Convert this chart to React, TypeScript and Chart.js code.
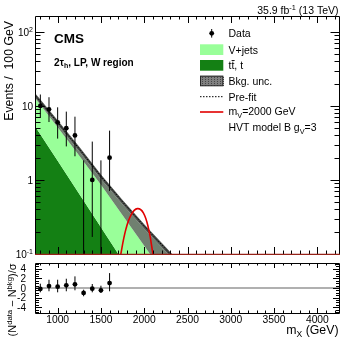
import React, { useEffect, useRef } from "react";
import { Chart, registerables } from "chart.js";
Chart.register(...registerables);

// ---------------- data ----------------
const binCenters = [800, 900, 1000, 1100, 1200, 1300, 1400, 1500, 1600];
const observed = [10, 9, 6, 5, 4, 0, 1, 0, 2];
const observedLow = [6.89, 6.06, 3.62, 2.84, 2.09, 0, 0.17, 0, 0.71];
const observedHigh = [14.27, 13.11, 9.58, 8.38, 7.16, 1.84, 3.3, 1.84, 4.64];

const curveMass = [750, 1000, 1250, 1500, 1750, 2000, 2250, 2500];
const ttbarYield = [5.09, 1.82, 0.647, 0.23, 0.0817, 0.0291, 0.0104, 0.0037];
const vjetsStack = [12.3, 5.15, 2.13, 0.864, 0.333, 0.129, 0.0497, 0.0192];
const uncInner = [12.5, 5.55, 2.43, 1.03, 0.468, 0.22, 0.107, 0.052];
const uncUpper = [14.4, 6.39, 2.8, 1.19, 0.538, 0.253, 0.123, 0.06];
const prefitTotal = [13.5, 6.0, 2.63, 1.12, 0.506, 0.238, 0.116, 0.056];

const signalMass = [1690, 1730, 1790, 1850, 1920, 1990, 2050, 2100, 2140];
const signalYield = [0.05, 0.1, 0.22, 0.34, 0.41, 0.36, 0.22, 0.1, 0.045];

const pullValue = [-0.2, 0.41, 0.27, 0.56, 0.77, -1.03, -0.14, -0.48, 1.03];
const pullLow = [-0.9, -0.68, -0.9, -0.68, -0.48, -1.72, -0.9, -1.03, -0.68];
const pullHigh = [0.9, 1.72, 1.72, 1.93, 2.42, -0.35, 0.83, 0.48, 3.1];

const xTickValues = [1000, 1500, 2000, 2500, 3000, 3500, 4000];
const xTickLabels = ["1000", "1500", "2000", "2500", "3000", "3500", "4000"];
const yMainTickValues = [0.1, 1, 10, 100];
const yMainTickLabels: [string, string][] = [["10", "-1"], ["1", ""], ["10", ""], ["10", "2"]];
const yPullTickValues = [-4, -2, 0, 2, 4];
const yPullTickLabels = ["-4", "-2", "0", "2", "4"];

// ---------------- helpers ----------------
const FAM = "'Liberation Sans', Arial, Helvetica, sans-serif";
type Part = { t: string; k?: "sup" | "sub" };

function drawRich(
  ctx: CanvasRenderingContext2D,
  parts: Part[],
  x: number,
  y: number,
  size: number,
  align: "left" | "right" | "center" = "left",
  bold = false,
  color = "#000"
) {
  const font = (s: number) => `${bold ? "bold " : ""}${s}px ${FAM}`;
  ctx.textAlign = "left";
  ctx.textBaseline = "alphabetic";
  let w = 0;
  for (const p of parts) {
    ctx.font = font(p.k ? size * 0.7 : size);
    w += ctx.measureText(p.t).width;
  }
  let cx = align === "right" ? x - w : align === "center" ? x - w / 2 : x;
  ctx.fillStyle = color;
  for (const p of parts) {
    const s = p.k ? size * 0.7 : size;
    ctx.font = font(s);
    const dy = p.k === "sup" ? -size * 0.4 : p.k === "sub" ? size * 0.25 : 0;
    ctx.fillText(p.t, cx, y + dy);
    cx += ctx.measureText(p.t).width;
  }
  return w;
}

const xy = (xs: number[], ys: (number | null)[]) => xs.map((x, i) => ({ x, y: ys[i] }));

// ---------------- main panel plugin ----------------
const mainDeco = {
  id: "mainDeco",
  afterDatasetsDraw(chart: any) {
    const { ctx, chartArea: a } = chart;
    const xs = chart.scales.x;
    const ys = chart.scales.y;
    ctx.save();
    ctx.beginPath();
    ctx.rect(a.left, a.top, a.right - a.left, a.bottom - a.top);
    ctx.clip();
    ctx.strokeStyle = "#000";
    ctx.lineWidth = 1;
    binCenters.forEach((m, i) => {
      const px = xs.getPixelForValue(m);
      const top = ys.getPixelForValue(observedHigh[i]);
      const bot = observedLow[i] > 0 ? ys.getPixelForValue(observedLow[i]) : a.bottom + 2;
      ctx.beginPath();
      ctx.moveTo(px, top);
      ctx.lineTo(px, bot);
      ctx.stroke();
    });
    ctx.restore();
  },
  afterDraw(chart: any) {
    const { ctx, chartArea: a } = chart;
    const xs = chart.scales.x;
    const ys = chart.scales.y;
    const L = a.left, R = a.right, T = a.top, B = a.bottom;
    ctx.save();
    ctx.strokeStyle = "#000";
    ctx.lineWidth = 1;
    ctx.beginPath();
    for (let m = 800; m <= 4200; m += 100) {
      const px = Math.round(xs.getPixelForValue(m)) + 0.5;
      const len = m % 500 === 0 ? 7 : 3.5;
      ctx.moveTo(px, B);
      ctx.lineTo(px, B - len);
      ctx.moveTo(px, T);
      ctx.lineTo(px, T + len);
    }
    for (let n = -1; n <= 2; n++) {
      for (let k = 1; k <= 9; k++) {
        const v = k * Math.pow(10, n);
        if (v < 0.1 || v > ys.max) continue;
        const py = Math.round(ys.getPixelForValue(v)) + 0.5;
        const len = k === 1 ? 8.5 : 4.5;
        ctx.moveTo(L, py);
        ctx.lineTo(L + len, py);
        ctx.moveTo(R, py);
        ctx.lineTo(R - len, py);
      }
    }
    ctx.stroke();
    // frame
    ctx.beginPath();
    ctx.moveTo(35.5, T + 0.5);
    ctx.lineTo(339.5, T + 0.5);
    ctx.lineTo(339.5, B + 0.5);
    ctx.moveTo(35.5, T + 0.5);
    ctx.lineTo(35.5, B + 0.5);
    ctx.stroke();
    ctx.strokeStyle = "rgb(150,35,25)";
    ctx.lineWidth = 1.3;
    ctx.beginPath();
    ctx.moveTo(35, B + 0.3);
    ctx.lineTo(340, B + 0.3);
    ctx.stroke();

    // y tick labels
    yMainTickValues.forEach((v, i) => {
      const py = ys.getPixelForValue(v);
      const [base, exp] = yMainTickLabels[i];
      const parts: Part[] = exp ? [{ t: base }, { t: exp, k: "sup" }] : [{ t: base }];
      drawRich(ctx, parts, 33, py + 3.6, 10, "right");
    });

    // y title
    ctx.save();
    ctx.translate(13.3, 21);
    ctx.rotate(-Math.PI / 2);
    drawRich(ctx, [{ t: "Events /  100 GeV" }], 0, 0, 12.3, "right");
    ctx.restore();

    // header texts
    drawRich(ctx, [{ t: "35.9 fb" }, { t: "-1", k: "sup" }, { t: " (13 TeV)" }], 338.5, 14, 10.5, "right");
    drawRich(ctx, [{ t: "CMS" }], 54, 42.5, 13.5, "left", true);
    drawRich(ctx, [{ t: "2τ" }, { t: "h", k: "sub" }, { t: ", LP, W region" }], 54, 65.5, 10, "left", true);

    // legend
    const tx = 228.5;
    const fs = 10.5;
    const bx0 = 200, bx1 = 223.3;
    // Data
    ctx.fillStyle = "#000";
    ctx.beginPath();
    ctx.arc(211.7, 33.3, 2.4, 0, Math.PI * 2);
    ctx.fill();
    ctx.strokeStyle = "#000";
    ctx.lineWidth = 1;
    ctx.beginPath();
    ctx.moveTo(211.7, 29);
    ctx.lineTo(211.7, 37.6);
    ctx.stroke();
    drawRich(ctx, [{ t: "Data" }], tx, 33.3 + 3.8, fs);
    // V+jets
    ctx.fillStyle = "rgb(153,255,153)";
    ctx.fillRect(bx0, 44.3, bx1 - bx0, 10.7);
    drawRich(ctx, [{ t: "V+jets" }], tx, 49.7 + 3.8, fs);
    // ttbar
    ctx.fillStyle = "rgb(20,128,20)";
    ctx.fillRect(bx0, 60, bx1 - bx0, 10.7);
    ctx.font = `${fs}px ${FAM}`;
    const wt = ctx.measureText("t").width;
    drawRich(ctx, [{ t: "tt, t" }], tx, 65.3 + 3.8, fs);
    ctx.strokeStyle = "#000";
    ctx.lineWidth = 0.9;
    ctx.beginPath();
    ctx.moveTo(tx + wt + 0.2, 65.3 + 3.8 - 8.6);
    ctx.lineTo(tx + 2 * wt + 0.3, 65.3 + 3.8 - 8.6);
    ctx.stroke();
    // Bkg unc
    ctx.fillStyle = "rgb(128,128,128)";
    ctx.fillRect(bx0, 75.7, bx1 - bx0, 10.3);
    ctx.fillStyle = "rgb(70,70,70)";
    for (let yy = 77; yy < 86; yy += 2) {
      for (let xx = bx0 + 1 + ((yy % 4) ? 1 : 0); xx < bx1; xx += 3) ctx.fillRect(xx, yy, 1, 1);
    }
    ctx.strokeStyle = "rgb(40,40,40)";
    ctx.lineWidth = 1;
    ctx.strokeRect(bx0 + 0.5, 76.2, bx1 - bx0 - 1, 9.6);
    drawRich(ctx, [{ t: "Bkg. unc." }], tx, 81 + 3.8, fs);
    // Pre-fit
    ctx.strokeStyle = "#000";
    ctx.lineWidth = 1;
    ctx.setLineDash([1.5, 1.5]);
    ctx.beginPath();
    ctx.moveTo(bx0, 96.7);
    ctx.lineTo(bx1, 96.7);
    ctx.stroke();
    ctx.setLineDash([]);
    drawRich(ctx, [{ t: "Pre-fit" }], tx, 96.7 + 3.8, fs);
    // signal
    ctx.strokeStyle = "rgb(225,0,0)";
    ctx.lineWidth = 1.6;
    ctx.beginPath();
    ctx.moveTo(bx0, 112);
    ctx.lineTo(bx1, 112);
    ctx.stroke();
    drawRich(ctx, [{ t: "m" }, { t: "V", k: "sub" }, { t: "=2000 GeV" }], tx, 111.5 + 3.8, fs);
    drawRich(ctx, [{ t: "HVT model B g" }, { t: "V", k: "sub" }, { t: "=3" }], tx, 127.3 + 3.8, fs);
    ctx.restore();
  },
};

// ---------------- pull panel plugin ----------------
const pullDeco = {
  id: "pullDeco",
  beforeDatasetsDraw(chart: any) {
    const { ctx, chartArea: a } = chart;
    const ys = chart.scales.y;
    const y0 = ys.getPixelForValue(0);
    ctx.save();
    ctx.strokeStyle = "rgb(150,150,150)";
    ctx.lineWidth = 1.5;
    ctx.beginPath();
    ctx.moveTo(a.left, y0);
    ctx.lineTo(a.right, y0);
    ctx.stroke();
    ctx.restore();
  },
  afterDatasetsDraw(chart: any) {
    const { ctx } = chart;
    const xs = chart.scales.x;
    const ys = chart.scales.y;
    ctx.save();
    ctx.strokeStyle = "#000";
    ctx.lineWidth = 1;
    binCenters.forEach((m, i) => {
      const px = xs.getPixelForValue(m);
      ctx.beginPath();
      ctx.moveTo(px, ys.getPixelForValue(pullHigh[i]));
      ctx.lineTo(px, ys.getPixelForValue(pullLow[i]));
      ctx.stroke();
    });
    ctx.restore();
  },
  afterDraw(chart: any) {
    const { ctx, chartArea: a } = chart;
    const xs = chart.scales.x;
    const ys = chart.scales.y;
    const L = a.left, R = a.right, T = a.top, B = a.bottom;
    ctx.save();
    ctx.strokeStyle = "#000";
    ctx.lineWidth = 1;
    ctx.beginPath();
    for (let m = 800; m <= 4200; m += 100) {
      const px = Math.round(xs.getPixelForValue(m)) + 0.5;
      const len = m % 500 === 0 ? 5 : 2.5;
      ctx.moveTo(px, B);
      ctx.lineTo(px, B - len);
      ctx.moveTo(px, T);
      ctx.lineTo(px, T + len);
    }
    for (let v = -5; v <= 5.001; v += 0.5) {
      const py = Math.round(ys.getPixelForValue(v)) + 0.5;
      const major = Math.abs(v % 2) < 1e-6;
      const len = major ? 6 : 3;
      ctx.moveTo(L, py);
      ctx.lineTo(L + len, py);
      ctx.moveTo(R, py);
      ctx.lineTo(R - len, py);
    }
    ctx.stroke();
    ctx.beginPath();
    ctx.rect(35.5, T + 0.5, 304, B - T);
    ctx.stroke();

    yPullTickValues.forEach((v, i) => {
      drawRich(ctx, [{ t: yPullTickLabels[i] }], 26, ys.getPixelForValue(v) + 3.6, 10, "right");
    });
    xTickValues.forEach((v, i) => {
      drawRich(ctx, [{ t: xTickLabels[i] }], xs.getPixelForValue(v), 65, 10.3, "center");
    });
    drawRich(ctx, [{ t: "m" }, { t: "X", k: "sub" }, { t: " (GeV)" }], 338.5, 75.5, 12.3, "right");

    ctx.save();
    ctx.translate(16, 42);
    ctx.rotate(-Math.PI / 2);
    drawRich(
      ctx,
      [{ t: "(N" }, { t: "data", k: "sup" }, { t: " − N" }, { t: "bkg", k: "sup" }, { t: ")/σ" }],
      0,
      0,
      11,
      "center"
    );
    ctx.restore();
    ctx.restore();
  },
};

function mainConfig(): any {
  return {
    type: "line",
    data: {
      datasets: [
        {
          label: "Data",
          data: xy(binCenters, observed.map((v) => (v > 0 ? v : null))),
          showLine: false,
          pointRadius: 2.4,
          pointBackgroundColor: "#000",
          pointBorderWidth: 0,
          fill: false,
        },
        {
          label: "Signal",
          data: xy(signalMass, signalYield),
          borderColor: "rgb(225,0,0)",
          borderWidth: 1.6,
          pointRadius: 0,
          tension: 0.4,
          fill: false,
        },
        {
          label: "Pre-fit",
          data: xy(curveMass, prefitTotal),
          borderColor: "#000",
          borderWidth: 1,
          borderDash: [1.5, 1.5],
          pointRadius: 0,
          fill: false,
        },
        {
          label: "Bkg. unc. (outer)",
          data: xy(curveMass, uncUpper),
          borderColor: "rgba(0,0,0,0)",
          borderWidth: 0,
          pointRadius: 0,
          fill: 4,
          backgroundColor: "rgb(78,82,78)",
        },
        {
          label: "Bkg. unc. (inner)",
          data: xy(curveMass, uncInner),
          borderColor: "rgba(0,0,0,0)",
          borderWidth: 0,
          pointRadius: 0,
          fill: 5,
          backgroundColor: "rgb(112,128,112)",
        },
        {
          label: "V+jets",
          data: xy(curveMass, vjetsStack),
          borderColor: "rgba(0,0,0,0)",
          borderWidth: 0,
          pointRadius: 0,
          fill: 6,
          backgroundColor: "rgb(153,255,153)",
        },
        {
          label: "ttbar",
          data: xy(curveMass, ttbarYield),
          borderColor: "rgba(0,0,0,0)",
          borderWidth: 0,
          pointRadius: 0,
          fill: "start",
          backgroundColor: "rgb(20,128,20)",
        },
      ],
    },
    options: {
      animation: false,
      responsive: false,
      devicePixelRatio: 1,
      layout: { padding: { left: 36, right: 18, top: 16, bottom: 4 } },
      elements: { line: { capBezierPoints: false, tension: 0 } },
      plugins: { legend: { display: false }, tooltip: { enabled: false }, title: { display: false } },
      scales: {
        x: { type: "linear", min: 750, max: 4250, display: false },
        y: { type: "logarithmic", min: 0.1, max: 164, display: false },
      },
    },
    plugins: [mainDeco],
  };
}

function pullConfig(): any {
  return {
    type: "line",
    data: {
      datasets: [
        {
          label: "Pull",
          data: xy(binCenters, pullValue),
          showLine: false,
          pointRadius: 2.4,
          pointBackgroundColor: "#000",
          pointBorderWidth: 0,
          fill: false,
        },
      ],
    },
    options: {
      animation: false,
      responsive: false,
      devicePixelRatio: 1,
      layout: { padding: { left: 36, right: 18, top: 5, bottom: 34 } },
      plugins: { legend: { display: false }, tooltip: { enabled: false }, title: { display: false } },
      scales: {
        x: { type: "linear", min: 750, max: 4250, display: false },
        y: { type: "linear", min: -5.2, max: 5.2, display: false },
      },
    },
    plugins: [pullDeco],
  };
}

export default function App() {
  const mainRef = useRef<HTMLCanvasElement>(null);
  const pullRef = useRef<HTMLCanvasElement>(null);
  useEffect(() => {
    document.body.style.margin = "0";
    const c1 = new Chart(mainRef.current as HTMLCanvasElement, mainConfig());
    const c2 = new Chart(pullRef.current as HTMLCanvasElement, pullConfig());
    return () => {
      c1.destroy();
      c2.destroy();
    };
  }, []);
  return (
    <div style={{ position: "fixed", left: 0, top: 0, width: 357, height: 347, background: "#fff" }}>
      <canvas
        ref={mainRef}
        width={357}
        height={258}
        style={{ position: "absolute", left: 0, top: 0, width: 357, height: 258 }}
      />
      <canvas
        ref={pullRef}
        width={357}
        height={89}
        style={{ position: "absolute", left: 0, top: 258, width: 357, height: 89 }}
      />
    </div>
  );
}
